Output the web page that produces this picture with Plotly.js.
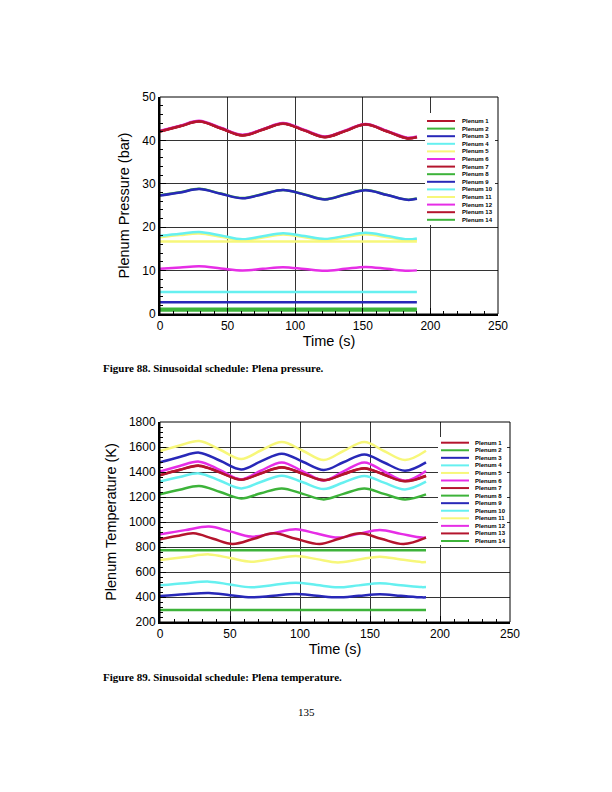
<!DOCTYPE html>
<html><head><meta charset="utf-8">
<script src="https://cdn.plot.ly/plotly-3.0.1.min.js"></script>
<style>html,body{margin:0;padding:0;background:#fff}</style>
</head><body><div id="chart" style="width:612px;height:792px"></div>
<script>
// ---------- legend ----------
const plenumNames = ['Plenum 1','Plenum 2','Plenum 3','Plenum 4','Plenum 5','Plenum 6','Plenum 7',
  'Plenum 8','Plenum 9','Plenum 10','Plenum 11','Plenum 12','Plenum 13','Plenum 14'];
const plenumColors = ['#B4152D','#3DB33A','#2828B8','#66F0F0','#F7F77A','#E62EE6','#B4152D',
  '#3DB33A','#2828B8','#66F0F0','#F7F77A','#E62EE6','#B4152D','#3DB33A'];

// ---------- axis ticks ----------
const xTicks = [0, 50, 100, 150, 200, 250];
const pTicks = [0, 10, 20, 30, 40, 50];
const tTicks = [200, 400, 600, 800, 1000, 1200, 1400, 1600, 1800];

// ---------- pressure (bar) ----------
const pTime = [0, 15, 29, 45, 61, 76, 91, 107, 122, 137, 152, 168, 183, 190];
const pFlatTime = [0, 190];
const p1  = [42.1, 43.3, 44.4, 42.8, 41.2, 42.5, 43.9, 42.3, 40.8, 42.2, 43.7, 42.1, 40.5, 40.8];
const p2  = [27.35, 28.05, 28.85, 27.75, 26.7, 27.65, 28.6, 27.55, 26.45, 27.55, 28.55, 27.45, 26.35, 26.6];
const p3  = [27.3, 28.0, 28.8, 27.7, 26.65, 27.6, 28.55, 27.5, 26.4, 27.5, 28.5, 27.4, 26.3, 26.55];
const p4  = [5.05, 5.05];
const p5  = [17.7, 18.2, 18.55, 17.8, 17.0, 17.6, 18.3, 17.7, 17.0, 17.7, 18.35, 17.7, 16.95, 17.1];
const p6  = [10.4, 10.7, 11.0, 10.5, 10.05, 10.4, 10.8, 10.35, 9.95, 10.4, 10.85, 10.4, 9.95, 10.05];
const p7  = [42.05, 43.25, 44.35, 42.75, 41.15, 42.45, 43.85, 42.25, 40.75, 42.15, 43.65, 42.05, 40.45, 40.75];
const p8  = [1.2, 1.2];
const p9  = [2.7, 2.7];
const p10 = [18.0, 18.5, 18.9, 18.1, 17.2, 17.9, 18.6, 17.95, 17.3, 18.0, 18.7, 18.0, 17.2, 17.4];
const p11 = [16.7, 16.7];
const p12 = [42.2, 43.4, 44.5, 42.9, 41.3, 42.6, 44.0, 42.4, 40.9, 42.3, 43.8, 42.2, 40.6, 40.9];
const p13 = [42.1, 43.3, 44.4, 42.8, 41.2, 42.5, 43.9, 42.3, 40.8, 42.2, 43.7, 42.1, 40.5, 40.8];
const p14 = [0.8, 0.8];

// ---------- temperature (K) ----------
const tTimeA = [0, 14, 28, 43, 58, 72, 87, 102, 117, 131, 146, 160, 175, 190];
const tTimeB = [0, 18, 35, 50, 65, 81, 97, 112, 127, 142, 157, 172, 187, 190];
const tTimeC = [0, 12, 24, 38, 52, 67, 81, 97, 114, 128, 143, 158, 174, 190];
const tFlatTime = [0, 190];
const t1  = [1376, 1418, 1451, 1398, 1340, 1390, 1438, 1388, 1336, 1384, 1430, 1380, 1328, 1370];
const t2  = [1221, 1258, 1288, 1240, 1189, 1230, 1269, 1225, 1181, 1225, 1269, 1225, 1181, 1221];
const t3  = [1477, 1520, 1555, 1490, 1421, 1485, 1547, 1482, 1416, 1478, 1541, 1476, 1410, 1477];
const t4  = [1323, 1360, 1389, 1330, 1269, 1320, 1371, 1318, 1264, 1316, 1368, 1315, 1261, 1323];
const t5  = [1568, 1612, 1648, 1578, 1504, 1572, 1640, 1570, 1496, 1568, 1640, 1568, 1496, 1570];
const t6  = [1403, 1448, 1483, 1415, 1341, 1410, 1477, 1405, 1332, 1405, 1477, 1405, 1330, 1408];
const t7  = [1374, 1416, 1449, 1396, 1338, 1388, 1436, 1386, 1334, 1382, 1428, 1378, 1326, 1368];
const t8  = [775, 775];
const t9  = [408, 422, 432, 414, 397, 410, 424, 410, 397, 409, 421, 409, 397, 397];
const t10 = [493, 510, 523, 500, 477, 496, 515, 496, 477, 493, 509, 494, 479, 480];
const t11 = [696, 720, 741, 712, 682, 705, 728, 703, 677, 700, 723, 700, 679, 680];
const t12 = [901, 935, 963, 925, 883, 910, 941, 908, 875, 905, 936, 905, 875, 876];
const t13 = [861, 888, 909, 866, 824, 866, 909, 866, 824, 866, 909, 866, 824, 875];
const t14 = [295, 295];

const pressureSeries = [
  [pTime, p1], [pTime, p2], [pTime, p3], [pFlatTime, p4], [pTime, p5], [pTime, p6], [pTime, p7],
  [pFlatTime, p8], [pFlatTime, p9], [pTime, p10], [pFlatTime, p11], [pTime, p12], [pTime, p13], [pFlatTime, p14]];
const tempSeries = [
  [tTimeA, t1], [tTimeA, t2], [tTimeA, t3], [tTimeA, t4], [tTimeA, t5], [tTimeA, t6], [tTimeA, t7],
  [tFlatTime, t8], [tTimeB, t9], [tTimeB, t10], [tTimeB, t11], [tTimeB, t12], [tTimeC, t13], [tFlatTime, t14]];

// ---------- page geometry (pixels) ----------
const W = 612, H = 792;
const fx = v => v / W;
const fy = v => 1 - v / H;
const SANS = 'Liberation Sans, Arial, sans-serif';
const SERIF = 'Liberation Serif, Times New Roman, serif';

const traces = [];
pressureSeries.forEach((s, i) => traces.push({
  type: 'scatter', mode: 'lines', x: s[0], y: s[1], name: plenumNames[i], xaxis: 'x', yaxis: 'y',
  line: {color: plenumColors[i], width: 2.5, shape: 'spline', smoothing: 1}, showlegend: false, hoverinfo: 'skip'}));
tempSeries.forEach((s, i) => traces.push({
  type: 'scatter', mode: 'lines', x: s[0], y: s[1], name: plenumNames[i], xaxis: 'x2', yaxis: 'y2',
  line: {color: plenumColors[i], width: 2.5, shape: 'spline', smoothing: 1}, showlegend: false, hoverinfo: 'skip'}));

function axisBase() {
  return {
    showline: true, linecolor: 'black', linewidth: 2, mirror: false,
    ticks: 'inside', ticklen: 6, tickwidth: 1, tickcolor: 'black',
    showgrid: true, gridcolor: '#333', gridwidth: 1, zeroline: false,
    tickfont: {family: SANS, size: 12, color: 'black'},
    tickmode: 'array', fixedrange: true
  };
}
const xaxis = Object.assign(axisBase(), {
  domain: [fx(160), fx(498)], range: [0, 250], tickvals: xTicks, anchor: 'y',
  minor: {dtick: 10, ticks: 'inside', ticklen: 3, tickcolor: 'black', tickwidth: 1, showgrid: false},
  title: {text: 'Time (s)', font: {family: SANS, size: 14.5, color: 'black'}, standoff: 0}
});
const yaxis = Object.assign(axisBase(), {
  domain: [fy(314), fy(97)], range: [0, 50], tickvals: pTicks, anchor: 'x',
  minor: {dtick: 2, ticks: 'inside', ticklen: 3, tickcolor: 'black', tickwidth: 1, showgrid: false},
  title: {text: 'Plenum Pressure (bar)', font: {family: SANS, size: 14.5, color: 'black'}, standoff: 9}
});
const xaxis2 = Object.assign(axisBase(), {
  domain: [fx(160), fx(510)], range: [0, 250], tickvals: xTicks, anchor: 'y2',
  minor: {dtick: 10, ticks: 'inside', ticklen: 3, tickcolor: 'black', tickwidth: 1, showgrid: false},
  title: {text: 'Time (s)', font: {family: SANS, size: 14.5, color: 'black'}, standoff: 0}
});
const yaxis2 = Object.assign(axisBase(), {
  domain: [fy(622), fy(422)], range: [200, 1800], tickvals: tTicks, anchor: 'x2',
  minor: {dtick: 40, ticks: 'inside', ticklen: 3, tickcolor: 'black', tickwidth: 1, showgrid: false},
  title: {text: 'Plenum Temperature (K)', font: {family: SANS, size: 14.5, color: 'black'}, standoff: 9}
});

const shapes = [];
const annotations = [];
// frames
[['x', 'y'], ['x2', 'y2']].forEach(a => shapes.push({
  type: 'rect', xref: a[0] + ' domain', yref: a[1] + ' domain', x0: 0, x1: 1, y0: 0, y1: 1,
  line: {color: 'black', width: 1}, layer: 'above'}));

// manual legends
const legends = [
  {box: [425, 495, 113, 225], lineX: [427, 455], textX: 460, rowY0: 121, rowDY: 7.6},
  {box: [438, 507, 437, 545], lineX: [441, 469], textX: 473, rowY0: 442.7, rowDY: 7.56}
];
legends.forEach(L => {
  shapes.push({type: 'rect', xref: 'paper', yref: 'paper', x0: fx(L.box[0]), x1: fx(L.box[1]),
    y0: fy(L.box[3]), y1: fy(L.box[2]), fillcolor: 'white', line: {width: 0}, layer: 'above'});
  plenumNames.forEach((n, i) => {
    const yy = L.rowY0 + i * L.rowDY;
    shapes.push({type: 'line', xref: 'paper', yref: 'paper', x0: fx(L.lineX[0]), x1: fx(L.lineX[1]),
      y0: fy(yy), y1: fy(yy), line: {color: plenumColors[i], width: 2}, layer: 'above'});
    annotations.push({xref: 'paper', yref: 'paper', x: fx(L.textX), y: fy(yy), xanchor: 'left', yanchor: 'middle',
      text: '<b>' + n + '</b>', showarrow: false, font: {family: SANS, size: 6, color: 'black'}});
  });
});

// captions
annotations.push({xref: 'paper', yref: 'paper', x: fx(101), y: fy(368), xanchor: 'left', yanchor: 'middle',
  text: '<b>Figure 88. Sinusoidal schedule: Plena pressure.</b>', showarrow: false,
  font: {family: SERIF, size: 11, color: 'black'}});
annotations.push({xref: 'paper', yref: 'paper', x: fx(101), y: fy(677), xanchor: 'left', yanchor: 'middle',
  text: '<b>Figure 89. Sinusoidal schedule: Plena temperature.</b>', showarrow: false,
  font: {family: SERIF, size: 11, color: 'black'}});
annotations.push({xref: 'paper', yref: 'paper', x: fx(306), y: fy(712), xanchor: 'center', yanchor: 'middle',
  text: '135', showarrow: false, font: {family: SERIF, size: 11, color: 'black'}});

const layout = {
  width: W, height: H, margin: {l: 0, r: 0, t: 0, b: 0},
  paper_bgcolor: 'white', plot_bgcolor: 'white', showlegend: false,
  xaxis, yaxis, xaxis2, yaxis2, shapes, annotations
};
Plotly.newPlot('chart', traces, layout, {staticPlot: true, displayModeBar: false});
</script></body></html>
